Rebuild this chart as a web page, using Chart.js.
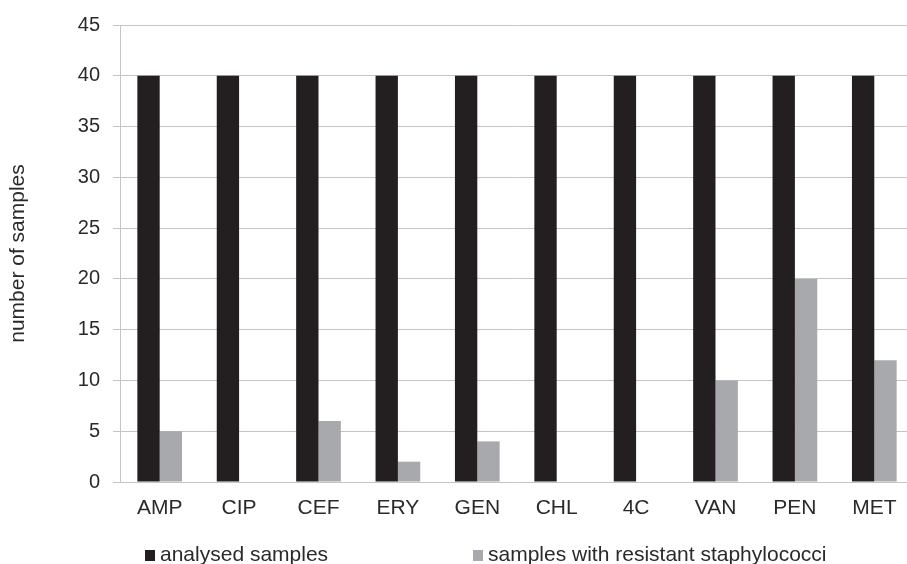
<!DOCTYPE html>
<html>
<head>
<meta charset="utf-8">
<script src="https://cdn.jsdelivr.net/npm/chart.js@4/dist/chart.umd.min.js"></script>
<style>
  html, body { margin: 0; padding: 0; background: #fff; overflow: hidden; }
  #wrap { width: 907px; height: 564px; overflow: hidden; position: relative; }
  canvas { display: block; }
</style>
</head>
<body>
<div id="wrap"><canvas id="c" width="914" height="564"></canvas></div>
<script>
const categories = ['AMP', 'CIP', 'CEF', 'ERY', 'GEN', 'CHL', '4C', 'VAN', 'PEN', 'MET'];
const analysedSamples = [40, 40, 40, 40, 40, 40, 40, 40, 40, 40];
const resistantSamples = [5, 0, 6, 2, 4, 0, 0, 10, 20, 12];
const seriesLabels = ['analysed samples', 'samples with resistant staphylococci'];
const seriesColors = ['#231f20', '#a7a9ac'];
const yTicks = [0, 5, 10, 15, 20, 25, 30, 35, 40, 45];

const FONT = '"Liberation Sans", Arial, sans-serif';
const TEXT = '#2a2a2a';
const GRID = '#c4c4c4';

const legendPlugin = {
  id: 'customLegend',
  afterDraw(chart) {
    const ctx = chart.ctx;
    const xs = [145, 473];
    ctx.save();
    ctx.font = '21px ' + FONT;
    ctx.textBaseline = 'alphabetic';
    ctx.textAlign = 'left';
    chart.data.datasets.forEach((ds, i) => {
      ctx.fillStyle = ds.backgroundColor;
      ctx.fillRect(xs[i], 550, 10, 11);
      ctx.fillStyle = TEXT;
      ctx.fillText(ds.label, xs[i] + 15, 561);
    });
    ctx.restore();
  }
};

new Chart(document.getElementById('c'), {
  type: 'bar',
  data: {
    labels: categories,
    datasets: [
      { label: seriesLabels[0], data: analysedSamples, backgroundColor: seriesColors[0] },
      { label: seriesLabels[1], data: resistantSamples, backgroundColor: seriesColors[1] }
    ]
  },
  options: {
    responsive: false,
    animation: false,
    devicePixelRatio: 1,
    layout: { padding: { top: 24, right: 0, bottom: 0, left: 0 } },
    datasets: { bar: { categoryPercentage: 0.563, barPercentage: 1.0 } },
    plugins: {
      legend: { display: false },
      tooltip: { enabled: false }
    },
    scales: {
      x: {
        grid: { display: false, drawTicks: false },
        border: { display: false },
        ticks: { color: TEXT, font: { family: FONT, size: 21 }, padding: 14, maxRotation: 0 },
        afterFit(scale) { scale.height = 82; }
      },
      y: {
        min: 0,
        max: 45,
        afterBuildTicks(scale) { scale.ticks = yTicks.map(v => ({ value: v })); },
        grid: { color: GRID, lineWidth: 1, tickLength: 7 },
        border: { display: true, color: GRID, width: 1 },
        ticks: { color: TEXT, font: { family: FONT, size: 20 }, padding: 13 },
        title: {
          display: true,
          text: 'number of samples',
          color: TEXT,
          font: { family: FONT, size: 21 },
          padding: { top: 6, bottom: 0 }
        },
        afterFit(scale) { scale.width = 120; }
      }
    }
  },
  plugins: [legendPlugin]
});
</script>
</body>
</html>
